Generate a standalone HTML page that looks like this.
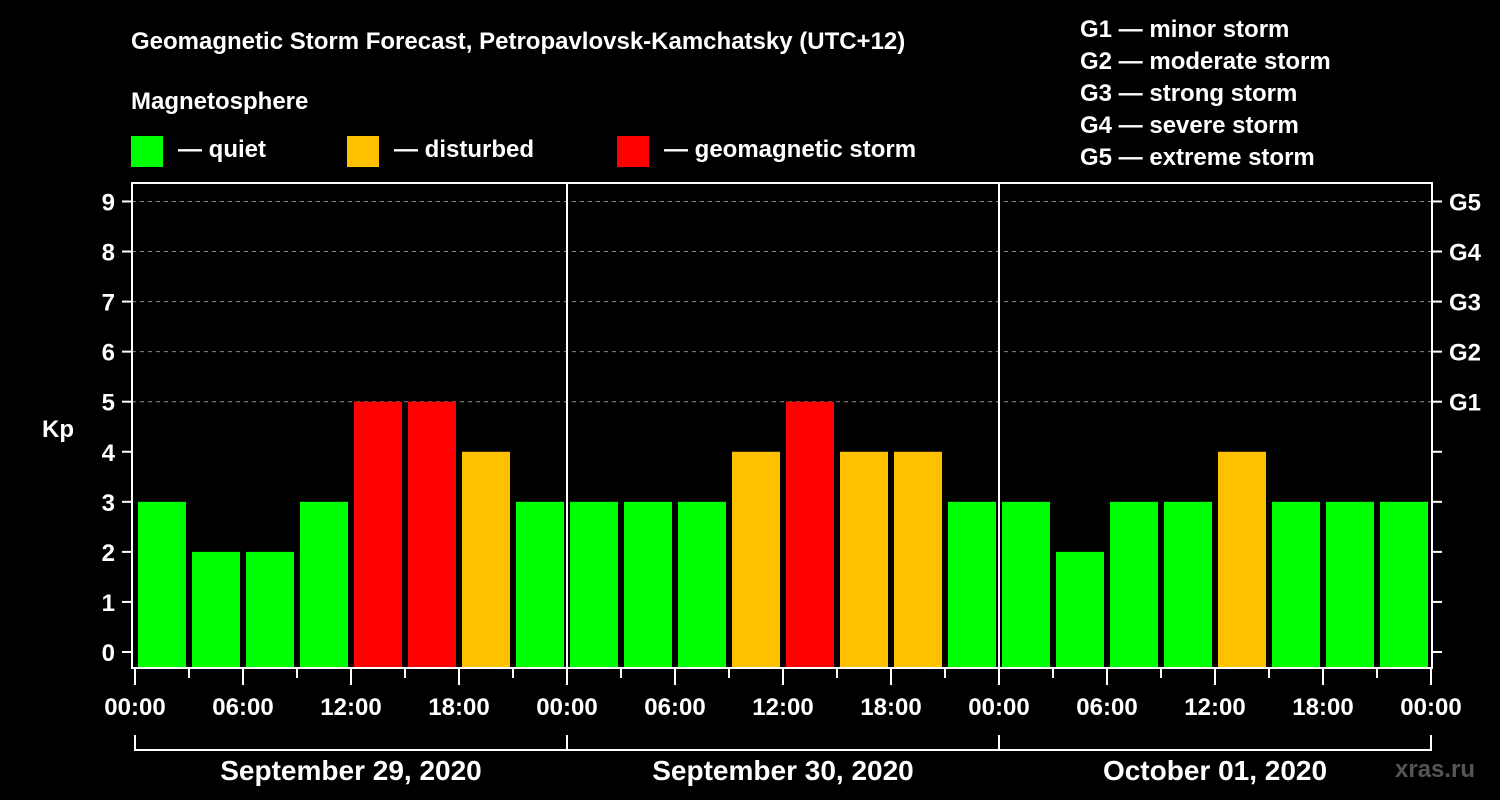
<!DOCTYPE html>
<html><head><meta charset="utf-8"><style>
html,body{margin:0;padding:0;background:#000;}
svg{display:block;font-family:"Liberation Sans",Arial,sans-serif;font-weight:bold;}
</style></head><body>
<svg id="c" width="1500" height="800" viewBox="0 0 1500 800">
<rect width="1500" height="800" fill="#000"/>
<text x="131" y="49" fill="#fff" font-size="24">Geomagnetic Storm Forecast, Petropavlovsk-Kamchatsky (UTC+12)</text>
<text x="131" y="109" fill="#fff" font-size="24">Magnetosphere</text>
<g><rect x="131" y="136" width="32" height="31" fill="#00ff00"/><text x="178" y="157" fill="#fff" font-size="24">— quiet</text></g>
<g><rect x="347" y="136" width="32" height="31" fill="#ffc000"/><text x="394" y="157" fill="#fff" font-size="24">— disturbed</text></g>
<g><rect x="617" y="136" width="32" height="31" fill="#ff0000"/><text x="664" y="157" fill="#fff" font-size="24">— geomagnetic storm</text></g>
<g fill="#fff" font-size="24">
<text x="1080" y="37">G1 — minor storm</text>
<text x="1080" y="69">G2 — moderate storm</text>
<text x="1080" y="101">G3 — strong storm</text>
<text x="1080" y="133">G4 — severe storm</text>
<text x="1080" y="165">G5 — extreme storm</text>
</g>
<text x="42" y="437" fill="#fff" font-size="24">Kp</text>
<text x="1395" y="777" fill="#555" font-size="24">xras.ru</text>
<g id="grid"></g><g id="bars"></g><g id="axes"></g>
</svg>
<script>
const days = ["September 29, 2020","September 30, 2020","October 01, 2020"];
const hourLabels = ["00:00","06:00","12:00","18:00"];
const kpValues = [3,2,2,3,5,5,4,3, 3,3,3,4,5,4,4,3, 3,2,3,3,4,3,3,3];
const yTicks = [0,1,2,3,4,5,6,7,8,9];
const gLabels = ["G1","G2","G3","G4","G5"];
const NS="http://www.w3.org/2000/svg";
const L=132,R=1432,T=183,B=668,X0=135,SLOT=54;
const y=v=>652-50.06*v;
const x=i=>X0+SLOT*i;
function mk(t,a,p){const e=document.createElementNS(NS,t);for(const k in a)e.setAttribute(k,a[k]);p.appendChild(e);return e;}
const grid=document.getElementById('grid'),bars=document.getElementById('bars'),axes=document.getElementById('axes');
for(let v=5;v<=9;v++){const ln=mk('line',{x1:L,x2:R,y1:y(v),y2:y(v),stroke:'#888','stroke-dasharray':'4,4'},grid);

}
kpValues.forEach((v,i)=>{const c=v>=5?'#ff0000':(v>=4?'#ffc000':'#00ff00');
const r=mk('rect',{x:x(i)+3,y:y(v),width:48,height:B-y(v),fill:c},bars);

});
const sw={stroke:'#fff','stroke-width':2};
mk('rect',{x:L,y:T,width:R-L,height:B-T,fill:'none',stroke:'#fff','stroke-width':2},axes);
for(let d=1;d<days.length;d++){const ln=mk('line',Object.assign({x1:x(8*d),x2:x(8*d),y1:T,y2:B},sw),axes);

}
yTicks.forEach(v=>{mk('line',Object.assign({x1:L-10,x2:L,y1:y(v),y2:y(v)},sw),axes);
mk('line',Object.assign({x1:R,x2:R+10,y1:y(v),y2:y(v)},sw),axes);
const t=mk('text',{x:115,y:y(v)+9,fill:'#fff','font-size':24,'text-anchor':'end'},axes);t.textContent=v;

});
gLabels.forEach((g,i)=>{const t=mk('text',{x:1449,y:y(5+i)+9,fill:'#fff','font-size':24},axes);t.textContent=g;

});
const n=days.length*8;
for(let i=0;i<=n;i++){const major=i%2===0;
mk('line',Object.assign({x1:x(i),x2:x(i),y1:B,y2:major?685:678},sw),axes);
if(major){const t=mk('text',{x:x(i),y:715,fill:'#fff','font-size':24,'text-anchor':'middle'},axes);t.textContent=hourLabels[(i/2)%4];

}}
mk('path',{d:`M${x(0)} 735V750H${x(n)}V735`,fill:'none',stroke:'#fff','stroke-width':2},axes);
days.forEach((d,k)=>{if(k>0)mk('line',Object.assign({x1:x(8*k),x2:x(8*k),y1:735,y2:750},sw),axes);
const t=mk('text',{x:x(8*k+4),y:780,fill:'#fff','font-size':28,'text-anchor':'middle'},axes);t.textContent=d;

});
</script>
</body></html>
